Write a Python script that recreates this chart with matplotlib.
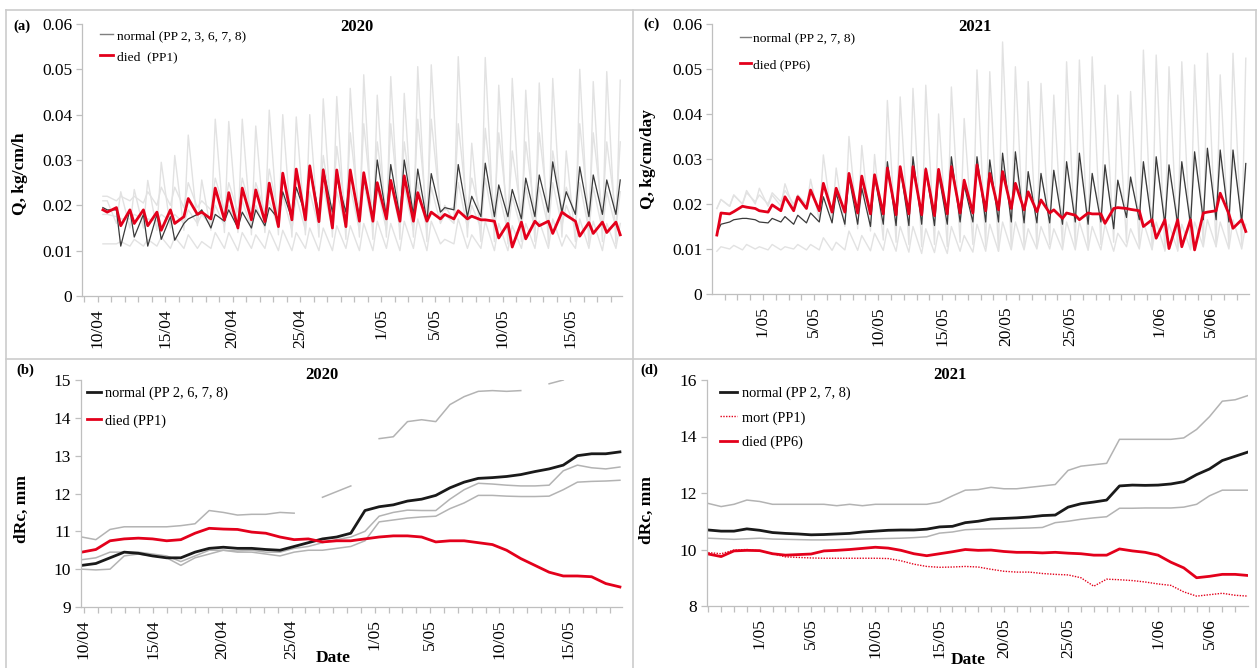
import numpy as np
import matplotlib.pyplot as plt
from matplotlib.lines import Line2D

plt.rcParams['font.family'] = ['Liberation Serif', 'DejaVu Serif']

# ---------------- (a) sap flux 2020, day 0 = 10/04 -----------------
# two readings per day: early-morning level (m) and midday level (d)
a_days = np.arange(0, 39)
a_blk_m = [0.0195, 0.019, 0.019, 0.018, 0.018, 0.0175, 0.016, 0.018, 0.015, 0.0165,
           0.015, 0.015, 0.0155, 0.017, 0.017, 0.018, 0.018, 0.0185, 0.0185, 0.0175,
           0.0175, 0.0175, 0.0175, 0.018, 0.0165, 0.0185, 0.019, 0.0175, 0.0175, 0.0175,
           0.0175, 0.017, 0.0175, 0.0185, 0.0185, 0.018, 0.0175, 0.018, 0.018]
a_blk_d = [0.019, 0.011, 0.013, 0.011, 0.0125, 0.0123, 0.017, 0.019, 0.018, 0.019,
           0.0185, 0.019, 0.0195, 0.023, 0.024, 0.0285, 0.028, 0.026, 0.027, 0.026,
           0.030, 0.029, 0.030, 0.028, 0.027, 0.0195, 0.029, 0.022, 0.0293, 0.0245,
           0.0235, 0.026, 0.0267, 0.0296, 0.023, 0.0285, 0.0267, 0.0256, 0.0256]
a_red_m = [0.019, 0.0195, 0.019, 0.019, 0.0185, 0.019, 0.0175, 0.018, 0.017, 0.0168,
           0.015, 0.0168, 0.0164, 0.0153, 0.0168, 0.0168, 0.0164, 0.015, 0.0153, 0.0165,
           0.0165, 0.017, 0.0165, 0.0165, 0.0165, 0.017, 0.017, 0.017, 0.0168, 0.0165,
           0.016, 0.0163, 0.0165, 0.0165, 0.0185, 0.0165, 0.0162, 0.0163, 0.0163]
a_red_d = [0.0185, 0.0155, 0.016, 0.0155, 0.0145, 0.016, 0.0215, 0.0185, 0.0238, 0.0228,
           0.0238, 0.0234, 0.0249, 0.0271, 0.028, 0.0287, 0.0278, 0.0278, 0.0278, 0.0272,
           0.025, 0.0255, 0.0265, 0.0228, 0.0185, 0.018, 0.0188, 0.0176, 0.0168, 0.0128,
           0.0108, 0.0126, 0.0155, 0.0138, 0.0178, 0.0132, 0.0138, 0.014, 0.0135]
a_g1_m = [0.021, 0.016, 0.015, 0.015, 0.0145, 0.015, 0.0145, 0.0155, 0.0145, 0.014,
          0.014, 0.0135, 0.014, 0.0135, 0.013, 0.0135, 0.013, 0.013, 0.0125, 0.013,
          0.0125, 0.013, 0.0125, 0.013, 0.012, 0.017, 0.0165, 0.013, 0.012, 0.012,
          0.0115, 0.012, 0.012, 0.0115, 0.013, 0.012, 0.0115, 0.012, 0.0115]
a_g1_d = [0.021, 0.023, 0.0235, 0.0255, 0.0295, 0.031, 0.0355, 0.0256, 0.039, 0.0385,
          0.039, 0.0375, 0.041, 0.040, 0.0395, 0.040, 0.0435, 0.044, 0.0458, 0.0488,
          0.0443, 0.0484, 0.0447, 0.0506, 0.051, 0.020, 0.0528, 0.0337, 0.0526, 0.0465,
          0.048, 0.0454, 0.047, 0.048, 0.032, 0.050, 0.0473, 0.0495, 0.0476]
a_g2_m = [0.022, 0.021, 0.021, 0.0205, 0.02, 0.02, 0.0195, 0.0195, 0.019, 0.019,
          0.0185, 0.0185, 0.0185, 0.018, 0.018, 0.018, 0.018, 0.0175, 0.018, 0.018,
          0.0175, 0.018, 0.0175, 0.018, 0.0175, 0.019, 0.0195, 0.0185, 0.018, 0.018,
          0.0175, 0.018, 0.018, 0.0185, 0.019, 0.018, 0.0175, 0.018, 0.018]
a_g2_d = [0.022, 0.022, 0.022, 0.023, 0.024, 0.024, 0.025, 0.021, 0.026, 0.025,
          0.026, 0.025, 0.028, 0.027, 0.027, 0.029, 0.031, 0.033, 0.036, 0.038,
          0.034, 0.038, 0.034, 0.039, 0.039, 0.019, 0.038, 0.026, 0.037, 0.036,
          0.032, 0.034, 0.036, 0.032, 0.024, 0.038, 0.036, 0.034, 0.034]
a_g3_m = [0.018, 0.0175, 0.017, 0.017, 0.0165, 0.0165, 0.016, 0.016, 0.0155, 0.0155,
          0.015, 0.015, 0.015, 0.015, 0.0145, 0.0145, 0.015, 0.0145, 0.015, 0.0145,
          0.015, 0.0145, 0.015, 0.0145, 0.0145, 0.016, 0.016, 0.015, 0.015, 0.0145,
          0.014, 0.0145, 0.0145, 0.015, 0.0155, 0.015, 0.0145, 0.0145, 0.015]
a_g3_d = [0.018, 0.017, 0.018, 0.017, 0.018, 0.018, 0.019, 0.018, 0.02, 0.02,
          0.021, 0.02, 0.021, 0.022, 0.022, 0.023, 0.024, 0.023, 0.024, 0.025,
          0.024, 0.025, 0.024, 0.025, 0.024, 0.018, 0.025, 0.02, 0.026, 0.023,
          0.022, 0.024, 0.024, 0.025, 0.02, 0.025, 0.024, 0.023, 0.023]
a_g4_m = [0.0115, 0.0115, 0.011, 0.011, 0.011, 0.0105, 0.0105, 0.0105, 0.0105, 0.0105,
          0.01, 0.0105, 0.0105, 0.01, 0.01, 0.0105, 0.01, 0.01, 0.0105, 0.01,
          0.01, 0.0105, 0.01, 0.0105, 0.01, 0.0115, 0.0115, 0.0105, 0.0105, 0.01,
          0.01, 0.0105, 0.0105, 0.0105, 0.011, 0.0105, 0.0105, 0.01, 0.0105]
a_g4_d = [0.0115, 0.012, 0.0125, 0.0125, 0.013, 0.013, 0.0135, 0.012, 0.014, 0.014,
          0.014, 0.0135, 0.0145, 0.0145, 0.014, 0.015, 0.015, 0.0155, 0.0155, 0.016,
          0.0165, 0.016, 0.0165, 0.017, 0.0165, 0.0125, 0.017, 0.0135, 0.0165, 0.016,
          0.0155, 0.016, 0.0165, 0.017, 0.0135, 0.017, 0.0165, 0.016, 0.016]
a_ticks = [0, 5, 10, 15, 21, 25, 30, 35]
a_ticklabels = ['10/04', '15/04', '20/04', '25/04', '1/05', '5/05', '10/05', '15/05']

# ---------------- (c) sap flux 2021, day 0 = 1/05 ------------------
c_days = np.arange(-4, 38)
c_blk_m = [0.0135, 0.016, 0.0168, 0.0165, 0.0158, 0.016, 0.0155, 0.0158, 0.016, 0.0158,
           0.0155, 0.0155, 0.015, 0.0155, 0.0152, 0.0152, 0.0155, 0.0152, 0.0155, 0.016,
           0.016, 0.016, 0.016, 0.016, 0.0158, 0.0158, 0.0158, 0.0155, 0.016, 0.0155,
           0.016, 0.0145, 0.017, 0.0165, 0.015, 0.0155, 0.0155, 0.0155, 0.0165, 0.0165,
           0.016, 0.016]
c_blk_d = [0.0155, 0.0165, 0.0168, 0.016, 0.0168, 0.0172, 0.0175, 0.018, 0.0216, 0.0224,
           0.026, 0.0235, 0.0262, 0.0294, 0.0283, 0.0305, 0.028, 0.0268, 0.0305, 0.0242,
           0.0305, 0.0298, 0.0313, 0.0316, 0.0272, 0.0268, 0.0275, 0.0294, 0.0313, 0.0268,
           0.0287, 0.0253, 0.026, 0.0294, 0.0305, 0.0287, 0.0294, 0.0316, 0.0324, 0.032,
           0.032, 0.029]
c_red_m = [0.0131, 0.0178, 0.0195, 0.019, 0.0182, 0.0185, 0.0185, 0.019, 0.0185, 0.0182,
           0.0182, 0.018, 0.0178, 0.0178, 0.0176, 0.0178, 0.0176, 0.0174, 0.0178, 0.018,
           0.018, 0.0185, 0.0187, 0.019, 0.0187, 0.0183, 0.018, 0.0168, 0.0175, 0.018,
           0.0178, 0.019, 0.019, 0.0185, 0.0165, 0.0165, 0.0165, 0.0165, 0.018, 0.0185,
           0.0178, 0.0165]
c_red_d = [0.018, 0.0183, 0.0193, 0.0185, 0.0198, 0.0216, 0.0216, 0.0231, 0.0246, 0.0235,
           0.0268, 0.0262, 0.0265, 0.028, 0.0283, 0.0283, 0.0277, 0.0277, 0.0283, 0.0253,
           0.0287, 0.0268, 0.0272, 0.0246, 0.0227, 0.0209, 0.0187, 0.018, 0.0165, 0.0178,
           0.0157, 0.0192, 0.0188, 0.015, 0.0124, 0.0101, 0.0105, 0.0098, 0.0182, 0.0224,
           0.0146, 0.0139]
c_g1_m = [0.019, 0.0195, 0.02, 0.02, 0.0195, 0.0195, 0.019, 0.019, 0.0165, 0.016,
          0.015, 0.0145, 0.014, 0.012, 0.0115, 0.011, 0.0105, 0.011, 0.0105, 0.0115,
          0.011, 0.0105, 0.0095, 0.01, 0.0105, 0.0105, 0.011, 0.0105, 0.0105, 0.0105,
          0.011, 0.0115, 0.0115, 0.0105, 0.01, 0.0095, 0.0095, 0.01, 0.0105, 0.0105,
          0.0105, 0.011]
c_g1_d = [0.021, 0.022, 0.023, 0.0235, 0.022, 0.0245, 0.022, 0.0255, 0.0309, 0.028,
          0.035, 0.033, 0.031, 0.043, 0.0438, 0.0457, 0.0464, 0.040, 0.046, 0.039,
          0.0498, 0.0494, 0.056, 0.0505, 0.0472, 0.0468, 0.0442, 0.0516, 0.052, 0.0527,
          0.0464, 0.0442, 0.045, 0.0542, 0.0531, 0.0505, 0.0516, 0.0509, 0.0535, 0.0487,
          0.0535, 0.0524]
c_g2_m = [0.019, 0.0195, 0.02, 0.0205, 0.02, 0.0205, 0.02, 0.02, 0.019, 0.019,
          0.0185, 0.0185, 0.018, 0.018, 0.018, 0.018, 0.018, 0.0175, 0.018, 0.018,
          0.018, 0.018, 0.018, 0.018, 0.0178, 0.0178, 0.0178, 0.0175, 0.018, 0.0175,
          0.018, 0.017, 0.019, 0.0185, 0.0175, 0.0175, 0.0175, 0.0175, 0.0185, 0.0185,
          0.018, 0.018]
c_g2_d = [0.021, 0.022, 0.0225, 0.022, 0.0225, 0.023, 0.022, 0.0225, 0.024, 0.023,
          0.026, 0.024, 0.026, 0.027, 0.027, 0.028, 0.027, 0.026, 0.028, 0.025,
          0.028, 0.028, 0.029, 0.029, 0.026, 0.026, 0.027, 0.028, 0.029, 0.026,
          0.027, 0.025, 0.025, 0.028, 0.029, 0.027, 0.028, 0.03, 0.031, 0.03,
          0.03, 0.028]
c_g3_m = [0.0095, 0.01, 0.0098, 0.01, 0.0098, 0.0098, 0.01, 0.0098, 0.0098, 0.0097,
          0.0098, 0.0097, 0.0096, 0.0097, 0.0095, 0.0093, 0.009, 0.0092, 0.009, 0.0095,
          0.0093, 0.0095, 0.0095, 0.0098, 0.0098, 0.01, 0.01, 0.0098, 0.0098, 0.0097,
          0.0098, 0.0095, 0.0105, 0.01, 0.0098, 0.0097, 0.0097, 0.0098, 0.0105, 0.0105,
          0.01, 0.01]
c_g3_d = [0.0105, 0.0108, 0.011, 0.0105, 0.011, 0.0105, 0.011, 0.011, 0.0125, 0.0115,
          0.014, 0.013, 0.0135, 0.0145, 0.015, 0.015, 0.0145, 0.014, 0.015, 0.013,
          0.0155, 0.0155, 0.016, 0.016, 0.0145, 0.015, 0.0145, 0.016, 0.016, 0.015,
          0.0155, 0.0135, 0.0145, 0.016, 0.016, 0.0155, 0.0155, 0.016, 0.0165, 0.016,
          0.0165, 0.0155]
c_ticks = [0, 4, 9, 14, 19, 24, 31, 35]
c_ticklabels = ['1/05', '5/05', '10/05', '15/05', '20/05', '25/05', '1/06', '5/06']

# ---------------- (b) dRc 2020, one value per day from 10/04 -------
b_red = [10.45, 10.52, 10.75, 10.8, 10.82, 10.8, 10.75, 10.78, 10.95, 11.08,
         11.06, 11.05, 10.98, 10.95, 10.85, 10.78, 10.8, 10.72, 10.75, 10.75,
         10.8, 10.85, 10.88, 10.88, 10.85, 10.72, 10.75, 10.75, 10.7, 10.65,
         10.5, 10.28, 10.1, 9.92, 9.82, 9.82, 9.8, 9.62, 9.53]
b_blk = [10.1, 10.15, 10.3, 10.45, 10.42, 10.35, 10.3, 10.3, 10.45, 10.55,
         10.58, 10.55, 10.55, 10.52, 10.5, 10.6, 10.7, 10.8, 10.85, 10.95,
         11.55, 11.65, 11.7, 11.8, 11.85, 11.95, 12.15, 12.3, 12.4, 12.42,
         12.45, 12.5, 12.58, 12.65, 12.75, 13.0, 13.05, 13.05, 13.1]
b_gtop = [10.85, 10.78, 11.05, 11.12, 11.12, 11.12, 11.12, 11.15, 11.2, 11.55,
          11.5, 11.43, 11.45, 11.45, 11.5, 11.48, np.nan, 11.9, 12.05, 12.2,
          np.nan, 13.45, 13.5, 13.9, 13.95, 13.9, 14.35, 14.56, 14.7, 14.72,
          14.7, 14.72, np.nan, 14.9, 15.0, np.nan, np.nan, np.nan, np.nan]
b_gmid = [10.25, 10.3, 10.45, 10.45, 10.45, 10.4, 10.35, 10.2, 10.35, 10.5,
          10.5, 10.48, 10.5, 10.45, 10.45, 10.55, 10.6, 10.7, 10.78, 10.85,
          11.0, 11.4, 11.5, 11.56, 11.55, 11.55, 11.85, 12.1, 12.27, 12.25,
          12.22, 12.2, 12.2, 12.22, 12.6, 12.75, 12.68, 12.65, 12.7]
b_glow = [10.0, 9.98, 10.0, 10.35, 10.4, 10.35, 10.3, 10.1, 10.3, 10.4,
          10.5, 10.45, 10.45, 10.4, 10.35, 10.45, 10.5, 10.5, 10.55, 10.6,
          10.75, 11.25, 11.3, 11.35, 11.38, 11.4, 11.6, 11.75, 11.95, 11.95,
          11.93, 11.92, 11.92, 11.93, 12.1, 12.3, 12.32, 12.33, 12.35]

# ---------------- (d) dRc 2021, one value per day from 27/04 -------
d_days = np.arange(-4, 39)
d_gtop = [11.63, 11.52, 11.6, 11.75, 11.7, 11.6, 11.6, 11.6, 11.6, 11.6,
          11.55, 11.6, 11.55, 11.6, 11.6, 11.6, 11.6, 11.6, 11.68, 11.9,
          12.1, 12.12, 12.2, 12.15, 12.15, 12.2, 12.25, 12.3, 12.8, 12.95,
          13.0, 13.05, 13.9, 13.9, 13.9, 13.9, 13.9, 13.95, 14.25, 14.7,
          15.25, 15.3, 15.45]
d_blk = [10.69, 10.65, 10.65, 10.73, 10.68, 10.6, 10.57, 10.55, 10.52, 10.53,
         10.55, 10.57, 10.62, 10.65, 10.68, 10.69, 10.69, 10.72, 10.8, 10.82,
         10.95, 11.0, 11.08, 11.1, 11.12, 11.15, 11.2, 11.22, 11.5, 11.62,
         11.68, 11.75, 12.25, 12.28, 12.27, 12.28, 12.32, 12.4, 12.65, 12.85,
         13.15, 13.3, 13.45]
d_glow = [10.4, 10.38, 10.36, 10.38, 10.4, 10.37, 10.36, 10.35, 10.34, 10.34,
          10.35, 10.36, 10.37, 10.38, 10.39, 10.4, 10.42, 10.45, 10.58, 10.62,
          10.7, 10.72, 10.73, 10.74, 10.75, 10.76, 10.78, 10.95, 11.0, 11.07,
          11.12, 11.16, 11.46, 11.46, 11.47, 11.47, 11.47, 11.5, 11.6, 11.9,
          12.1, 12.1, 12.1]
d_red = [9.84, 9.75, 9.95, 9.97, 9.96, 9.85, 9.8, 9.82, 9.84, 9.95,
         9.97, 10.0, 10.04, 10.08, 10.05, 9.97, 9.85, 9.78, 9.85, 9.92,
         10.0, 9.97, 9.98, 9.93, 9.9, 9.9, 9.88, 9.9, 9.87, 9.85,
         9.8, 9.8, 10.02, 9.95, 9.9, 9.8, 9.55, 9.35, 9.0, 9.05,
         9.12, 9.12, 9.08]
d_mort = [9.89, 9.85, 9.98, 10.0, 9.95, 9.85, 9.74, 9.72, 9.7, 9.69,
          9.69, 9.69, 9.69, 9.69, 9.68, 9.6, 9.48, 9.4, 9.37, 9.38,
          9.4, 9.38, 9.3, 9.23, 9.2, 9.2, 9.15, 9.12, 9.1, 9.0,
          8.7, 8.95, 8.93, 8.9, 8.85, 8.78, 8.73, 8.5, 8.35, 8.4,
          8.45, 8.38, 8.35]

RED = '#e3001b'
LGREY = '#e2e2e2'
AXC = '#bfbfbf'
W, H = 1259, 668


def diurnal(days, m, d):
    # morning reading ~10h, midday reading ~17h on each day
    x = np.column_stack([days + 0.4, days + 0.72]).ravel()
    y = np.column_stack([m, d]).ravel()
    return x, y


def box(l, r, top, bot):
    return [l / W, 1 - bot / H, (r - l) / W, (bot - top) / H]


def style(ax, xlim, ylim, yticks, ylabels, xticks, xlabels):
    for s in ['top', 'right']:
        ax.spines[s].set_visible(False)
    for s in ['left', 'bottom']:
        ax.spines[s].set_color(AXC)
        ax.spines[s].set_linewidth(0.9)
    ax.set_xlim(*xlim)
    ax.set_ylim(*ylim)
    ax.set_yticks(yticks)
    ax.set_yticklabels(ylabels)
    ax.set_xticks(xticks)
    ax.set_xticklabels(xlabels, rotation=90)
    ax.set_xticks(np.arange(np.ceil(xlim[0]), xlim[1]), minor=True)
    ax.tick_params(which='both', color=AXC, length=4, width=0.9, labelsize=12.5,
                   direction='out', pad=3)
    ax.tick_params(axis='x', pad=5)


fig = plt.figure(figsize=(W / 100, H / 100), dpi=100)

# ---- (a)
ax = fig.add_axes(box(82, 622, 24, 296))
for m, d in [(a_g1_m, a_g1_d), (a_g2_m, a_g2_d), (a_g3_m, a_g3_d), (a_g4_m, a_g4_d)]:
    ax.plot(*diurnal(a_days, m, d), color=LGREY, lw=1.0)
ax.plot(*diurnal(a_days, a_blk_m, a_blk_d), color='#3a3a3a', lw=0.9)
ax.plot(*diurnal(a_days, a_red_m, a_red_d), color=RED, lw=2.0)
style(ax, (-1.15, 38.85), (0, 0.06), np.arange(0, 0.061, 0.01),
      ['0', '0.01', '0.02', '0.03', '0.04', '0.05', '0.06'], a_ticks, a_ticklabels)
ax.set_ylabel('Q, kg/cm/h', fontsize=12.5, fontweight='bold')
ax.yaxis.set_label_coords(-0.1, 0.45)
ax.text(0.509, 0.99, '2020', transform=ax.transAxes, ha='center', va='center',
        fontsize=12, fontweight='bold')
h = [Line2D([], [], color='#7f7f7f', lw=1), Line2D([], [], color=RED, lw=2)]
ax.legend(h, ['normal (PP 2, 3, 6, 7, 8)', 'died  (PP1)'], loc='upper left',
          bbox_to_anchor=(0.033, 0.98), frameon=False, fontsize=9.7, handlelength=1.0,
          handletextpad=0.3, labelspacing=0.65, borderpad=0, borderaxespad=0)

# ---- (c)
ax = fig.add_axes(box(712, 1249, 24, 294))
for m, d in [(c_g1_m, c_g1_d), (c_g2_m, c_g2_d), (c_g3_m, c_g3_d)]:
    ax.plot(*diurnal(c_days, m, d), color=LGREY, lw=1.0)
ax.plot(*diurnal(c_days, c_blk_m, c_blk_d), color='#3a3a3a', lw=0.9)
ax.plot(*diurnal(c_days, c_red_m, c_red_d), color=RED, lw=2.0)
style(ax, (-3.98, 37.97), (0, 0.06), np.arange(0, 0.061, 0.01),
      ['0', '0.01', '0.02', '0.03', '0.04', '0.05', '0.06'], c_ticks, c_ticklabels)
ax.set_ylabel('Q, kg/cm/day', fontsize=12.5, fontweight='bold')
ax.yaxis.set_label_coords(-0.104, 0.5)
ax.text(0.49, 0.99, '2021', transform=ax.transAxes, ha='center', va='center',
        fontsize=12, fontweight='bold')
ax.legend(h, ['normal (PP 2, 7, 8)', 'died (PP6)'], loc='upper left',
          bbox_to_anchor=(0.052, 0.97), frameon=False, fontsize=9.7, handlelength=0.8,
          handletextpad=0.2, labelspacing=1.05, borderpad=0, borderaxespad=0)

# ---- (b)
ax = fig.add_axes(box(81, 622, 380, 607))
bx = np.linspace(-0.15, 38.7, len(b_red))
ax.plot(bx, b_gtop, color='#b3b3b3', lw=1.1)
ax.plot(bx, b_gmid, color='#b3b3b3', lw=1.1)
ax.plot(bx, b_glow, color='#b3b3b3', lw=1.1)
ax.plot(bx, b_blk, color='#1a1a1a', lw=2.0)
ax.plot(bx, b_red, color=RED, lw=2.0)
style(ax, (-0.2, 38.85), (9, 15), range(9, 16), [str(v) for v in range(9, 16)],
      a_ticks, a_ticklabels)
ax.set_ylabel('dRc, mm', fontsize=12.5, fontweight='bold')
ax.yaxis.set_label_coords(-0.094, 0.43)
ax.text(0.445, 1.022, '2020', transform=ax.transAxes, ha='center', va='center',
        fontsize=12, fontweight='bold')
hb = [Line2D([], [], color='#1a1a1a', lw=2), Line2D([], [], color=RED, lw=2)]
ax.legend(hb, ['normal (PP 2, 6, 7, 8)', 'died (PP1)'], loc='upper left',
          bbox_to_anchor=(0.011, 0.97), frameon=False, fontsize=10.4, handlelength=1.0,
          handletextpad=0.25, labelspacing=0.95, borderpad=0, borderaxespad=0)

# ---- (d)
ax = fig.add_axes(box(707, 1248, 380, 606))
ax.plot(d_days, d_gtop, color='#b3b3b3', lw=1.1)
ax.plot(d_days, d_glow, color='#b3b3b3', lw=1.1)
ax.plot(d_days, d_blk, color='#1a1a1a', lw=2.0)
ax.plot(d_days, d_mort, color=RED, lw=1.0, ls=(0, (1, 1)))
ax.plot(d_days, d_red, color=RED, lw=2.0)
style(ax, (-4.1, 38.0), (8, 16), range(8, 17, 2), [str(v) for v in range(8, 17, 2)],
      c_ticks, c_ticklabels)
ax.set_ylabel('dRc, mm', fontsize=12.5, fontweight='bold')
ax.yaxis.set_label_coords(-0.096, 0.425)
ax.text(0.449, 1.022, '2021', transform=ax.transAxes, ha='center', va='center',
        fontsize=12, fontweight='bold')
hd = [Line2D([], [], color='#1a1a1a', lw=2),
      Line2D([], [], color=RED, lw=1, ls=(0, (1, 1))),
      Line2D([], [], color=RED, lw=2)]
ax.legend(hd, ['normal (PP 2, 7, 8)', 'mort (PP1)', 'died (PP6)'], loc='upper left',
          bbox_to_anchor=(0.024, 0.97), frameon=False, fontsize=10.4, handlelength=1.2,
          handletextpad=0.3, labelspacing=0.75, borderpad=0, borderaxespad=0)

# panel letters, axis titles, frame
for txt, x, y in [('(a)', 22, 26), ('(c)', 651, 24), ('(b)', 25, 370), ('(d)', 649, 370)]:
    fig.text(x / W, 1 - y / H, txt, ha='center', va='center', fontsize=10.5,
             fontweight='bold')
fig.text(333 / W, 1 - 658 / H, 'Date', ha='center', va='center', fontsize=12.5,
         fontweight='bold')
fig.text(968 / W, 1 - 660 / H, 'Date', ha='center', va='center', fontsize=12.5,
         fontweight='bold')
fc = '#cccccc'
for xs, ys in [([6, 1256], [10, 10]), ([6, 6], [10, 668]), ([1256, 1256], [10, 668]),
               ([633, 633], [10, 668]), ([6, 1256], [359, 359])]:
    fig.add_artist(Line2D(np.array(xs) / W, 1 - np.array(ys) / H, color=fc, lw=1.2))

fig.savefig('out.png', dpi=100)
